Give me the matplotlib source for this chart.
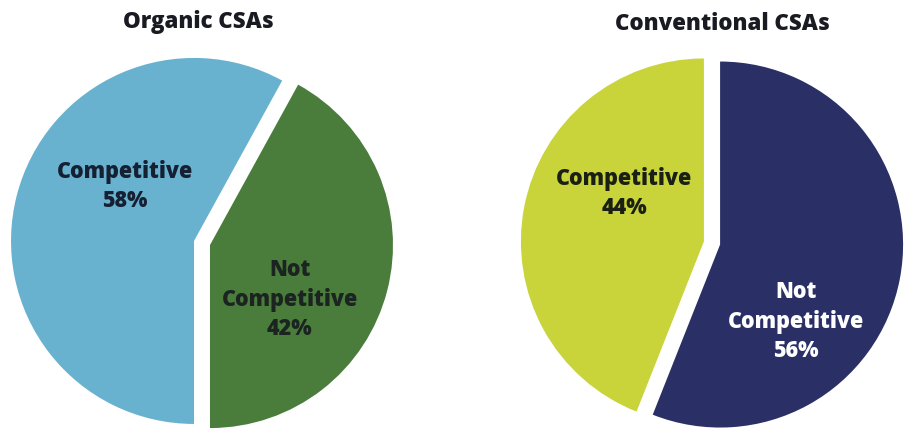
import matplotlib
matplotlib.use("Agg")
import matplotlib.pyplot as plt

plt.rcParams['font.family'] = ['Open Sans', 'DejaVu Sans']

# survey shares, percent
organic_labels = ["Not\nCompetitive", "Competitive"]
organic_values = [42, 58]
conventional_labels = ["Not\nCompetitive", "Competitive"]
conventional_values = [56, 44]

organic_colors = ["#4a7c3b", "#69b2cf"]
conventional_colors = ["#2a2f66", "#c9d43a"]

W, H = 908, 433
R = 183  # pie radius in pixels
LIM = 1.12

fig = plt.figure(figsize=(W / 100, H / 100), dpi=100)


def pie_axes(cx, cy):
    """square axes centred on pixel (cx, cy) measured from the top-left"""
    size = 2 * LIM * R
    return fig.add_axes([(cx - size / 2) / W, (H - cy - size / 2) / H, size / W, size / H])


def draw_pie(ax, values, labels, colors, startangle, text_pos, text_colors):
    ax.pie(values, colors=colors, startangle=startangle, counterclock=True,
           explode=[0.045] * len(values), radius=1.0,
           wedgeprops=dict(linewidth=0))
    for val, lab, pos, tc in zip(values, labels, text_pos, text_colors):
        ax.text(pos[0], pos[1], f"{lab}\n{val}%", ha="center", va="center",
                fontsize=15.5, fontweight=800, color=tc, linespacing=1.3)
    ax.set_xlim(-LIM, LIM)
    ax.set_ylim(-LIM, LIM)
    ax.set_aspect("equal")
    ax.axis("off")


ax1 = pie_axes(202, 243)
draw_pie(ax1, organic_values, organic_labels, organic_colors, -90,
         [(0.48, -0.31), (-0.42, 0.31)], ["#1b2420", "#152033"])

ax2 = pie_axes(712, 243)
# navy wedge runs clockwise from 12 o'clock, so start it at its far edge
draw_pie(ax2, conventional_values, conventional_labels, conventional_colors,
         90 - 360 * conventional_values[0] / 100,
         [(0.46, -0.43), (-0.48, 0.27)], ["#ffffff", "#1b2014"])

fig.text(198 / W, 1 - 22 / H, "Organic CSAs", ha="center", va="center",
         fontsize=16, fontweight=800, color="#1a1a22")
fig.text(722 / W, 1 - 24 / H, "Conventional CSAs", ha="center", va="center",
         fontsize=16, fontweight=800, color="#1a1a22")

fig.savefig("out.png", dpi=100)
